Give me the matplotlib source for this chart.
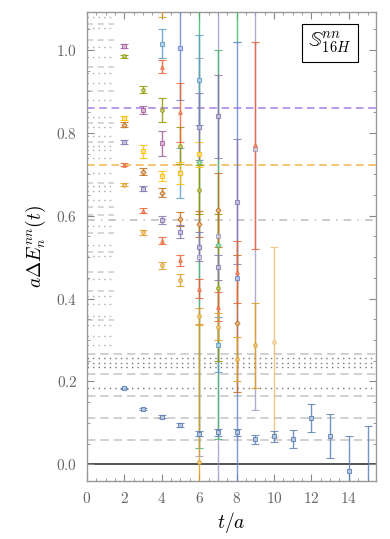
import matplotlib
matplotlib.use("Agg")
import matplotlib.pyplot as plt
from matplotlib.ticker import MultipleLocator, FuncFormatter
from matplotlib.colors import to_rgb

plt.rcParams['mathtext.fontset'] = 'cm'

# effective energy shifts, one list per operator colour: t, value, error
t_blue = [2, 3, 4, 5, 6, 7, 8, 9, 10, 11, 12, 13, 14, 15]
y_blue = [0.183, 0.133, 0.115, 0.095, 0.074, 0.077, 0.077, 0.060, 0.067, 0.060, 0.112, 0.068, -0.016, -0.05]
e_blue = [0.002, 0.003, 0.003, 0.004, 0.006, 0.009, 0.008, 0.011, 0.014, 0.022, 0.034, 0.053, 0.084, 0.142]

t_blue2 = [5, 8]
y_blue2 = [1.005, 0.45]
e_blue2 = [0.125, 0.57]

t_cyan = [4, 5, 6, 7]
y_cyan = [1.015, 0.703, 0.928, 0.289]
e_cyan = [0.035, 0.06, 0.108, 0.066]

t_orange = [2, 3, 4, 4, 5, 6, 6, 7, 8, 9]
y_orange = [0.675, 0.560, 0.480, 1.11, 0.445, 0.358, 0.005, 0.332, 0.253, 0.287]
e_orange = [0.004, 0.006, 0.009, 0.03, 0.015, 0.02, 0.33, 0.032, 0.053, 0.103]

t_lorange = [10]
y_lorange = [0.295]
e_lorange = [0.23]

t_green = [6, 7, 8]
y_green = [0.73, 0.53, 1.5]
e_green = [0.69, 0.47, 0.48]

t_red = [2, 3, 4, 4, 5, 5, 6, 7, 8, 9]
y_red = [0.723, 0.612, 0.540, 0.96, 0.492, 0.85, 0.424, 0.38, 0.465, 0.77]
e_red = [0.004, 0.006, 0.009, 0.015, 0.014, 0.071, 0.022, 0.035, 0.075, 0.25]

t_purple = [2, 3, 4, 5, 6, 6, 7, 7, 8]
y_purple = [0.778, 0.665, 0.59, 0.561, 0.815, 0.525, 0.84, 0.475, 0.634]
e_purple = [0.004, 0.006, 0.01, 0.016, 0.08, 0.035, 0.1, 0.03, 0.15]

t_lav = [6, 7, 9]
y_lav = [0.5, 0.55, 0.76]
e_lav = [0.48, 0.7, 0.63]

t_magenta = [2, 3, 4]
y_magenta = [1.010, 0.855, 0.775]
e_magenta = [0.005, 0.01, 0.03]

t_olive = [2, 3, 4, 5, 6, 7]
y_olive = [0.985, 0.904, 0.855, 0.769, 0.663, 0.426]
e_olive = [0.004, 0.008, 0.03, 0.044, 0.06, 0.177]

t_brown = [2, 3, 4, 5, 6, 7, 8]
y_brown = [0.820, 0.706, 0.655, 0.593, 0.58, 0.614, 0.34]
e_brown = [0.005, 0.008, 0.011, 0.017, 0.032, 0.09, 0.166]

t_yellow = [2, 3, 4, 5, 6]
y_yellow = [0.836, 0.755, 0.695, 0.703, 0.748]
e_yellow = [0.005, 0.015, 0.012, 0.026, 0.03]

# reference levels
full_dashed = [0.058, 0.111, 0.165, 0.218, 0.267]
full_dotted = [0.183, 0.235, 0.245, 0.257]
dashdot_level = 0.590
purple_level = 0.860
orange_level = 0.722
left_dashed = [1.063, 1.024, 0.960, 0.901, 0.823, 0.777, 0.679, 0.622, 0.602, 0.558,
               0.512, 0.464, 0.417, 0.348]
left_dotted = [1.080, 1.054, 1.006, 0.982, 0.944, 0.921, 0.880, 0.838, 0.814, 0.793,
               0.769, 0.759, 0.739, 0.703, 0.672, 0.659, 0.639, 0.574, 0.528, 0.502,
               0.447, 0.407, 0.386, 0.357, 0.335, 0.309, 0.287]

fig = plt.figure(figsize=(3.9, 5.39), dpi=100)
ax = fig.add_axes([0.223, 0.108, 0.741, 0.870])
xmax = 15.45

for v in left_dashed:
    ax.plot([0, 1.45], [v, v], color='#cccccc', lw=1.1, ls=(0, (4, 3)), zorder=1)
for v in left_dotted:
    ax.plot([0, 1.45], [v, v], color='#aaaaaa', lw=1.0, ls=(0, (1, 3)), zorder=1)
for v in full_dashed:
    ax.axhline(v, color='#c8c8c8', lw=1.2, ls=(0, (5, 3)), zorder=1)
for v in full_dotted:
    ax.axhline(v, color='#777777', lw=1.0, ls=(0, (1, 3)), zorder=1)
ax.axhline(dashdot_level, color='#bbbbbb', lw=1.1, ls=(0, (5, 4, 1, 4)), zorder=1)
ax.axhline(purple_level, color='#a57fe8', lw=1.1, ls=(0, (5, 3)), zorder=1)
ax.axhline(orange_level, color='#f2b64a', lw=1.1, ls=(0, (5, 3)), zorder=1)
ax.axhline(0, color='#444444', lw=1.3, zorder=1)


def light(c, f=0.6):
    r, g, b = to_rgb(c)
    return (r + (1 - r) * f, g + (1 - g) * f, b + (1 - b) * f)


def draw(t, y, e, color, marker, alpha=0.85):
    ax.errorbar(t, y, yerr=e, fmt=marker, color=color, ecolor=color, alpha=alpha,
                ms=2.6, mfc=light(color), mec=color, mew=0.8, lw=1.0,
                capsize=3.2, capthick=1.1, zorder=3)


draw(t_lav, y_lav, e_lav, '#9c95c0', 's', 0.8)
draw(t_green, y_green, e_green, '#47b66d', 'D')
draw(t_blue2, y_blue2, e_blue2, '#6685d9', 's')
draw(t_lorange, y_lorange, e_lorange, '#efbe74', 'o')
draw(t_cyan, y_cyan, e_cyan, '#5d9ec7', 's')
draw(t_olive, y_olive, e_olive, '#929600', 'o')
draw(t_magenta, y_magenta, e_magenta, '#a5619d', 's')
draw(t_yellow, y_yellow, e_yellow, '#ffbf00', 's')
draw(t_brown, y_brown, e_brown, '#c56e1a', 'D')
draw(t_purple, y_purple, e_purple, '#8778b3', 's')
draw(t_red, y_red, e_red, '#eb6235', '^')
draw(t_orange, y_orange, e_orange, '#e19c24', 'o')
draw(t_blue, y_blue, e_blue, '#5e81b5', 's')

ax.set_xlim(0, xmax)
ax.set_ylim(-0.04, 1.092)
ax.xaxis.set_major_locator(MultipleLocator(2))
ax.xaxis.set_minor_locator(MultipleLocator(0.5))
ax.yaxis.set_major_locator(MultipleLocator(0.2))
ax.yaxis.set_minor_locator(MultipleLocator(0.05))
ax.xaxis.set_major_formatter(FuncFormatter(lambda v, p: r'$%d$' % round(v)))
ax.yaxis.set_major_formatter(FuncFormatter(lambda v, p: r'$%.1f$' % v))
ax.tick_params(which='both', direction='in', top=True, right=True, color='#888888',
               labelcolor='#666666', labelsize=11)
ax.tick_params(which='major', length=5, pad=7)
ax.tick_params(which='minor', length=2.5)
for s in ax.spines.values():
    s.set_color('#999999')
    s.set_linewidth(1.0)

ax.set_xlabel(r'$t/a$', fontsize=14, labelpad=3)
ax.set_ylabel(r'$a\Delta E^{nn}_n(t)$', fontsize=14, labelpad=6)

ax.text(0.84, 0.934, r'$\mathbb{S}^{nn}_{16H}$', transform=ax.transAxes, fontsize=15,
        ha='center', va='center', zorder=5,
        bbox=dict(boxstyle='square,pad=0.3', fc='white', ec='black', lw=0.8))

fig.savefig('out.png', dpi=100)
